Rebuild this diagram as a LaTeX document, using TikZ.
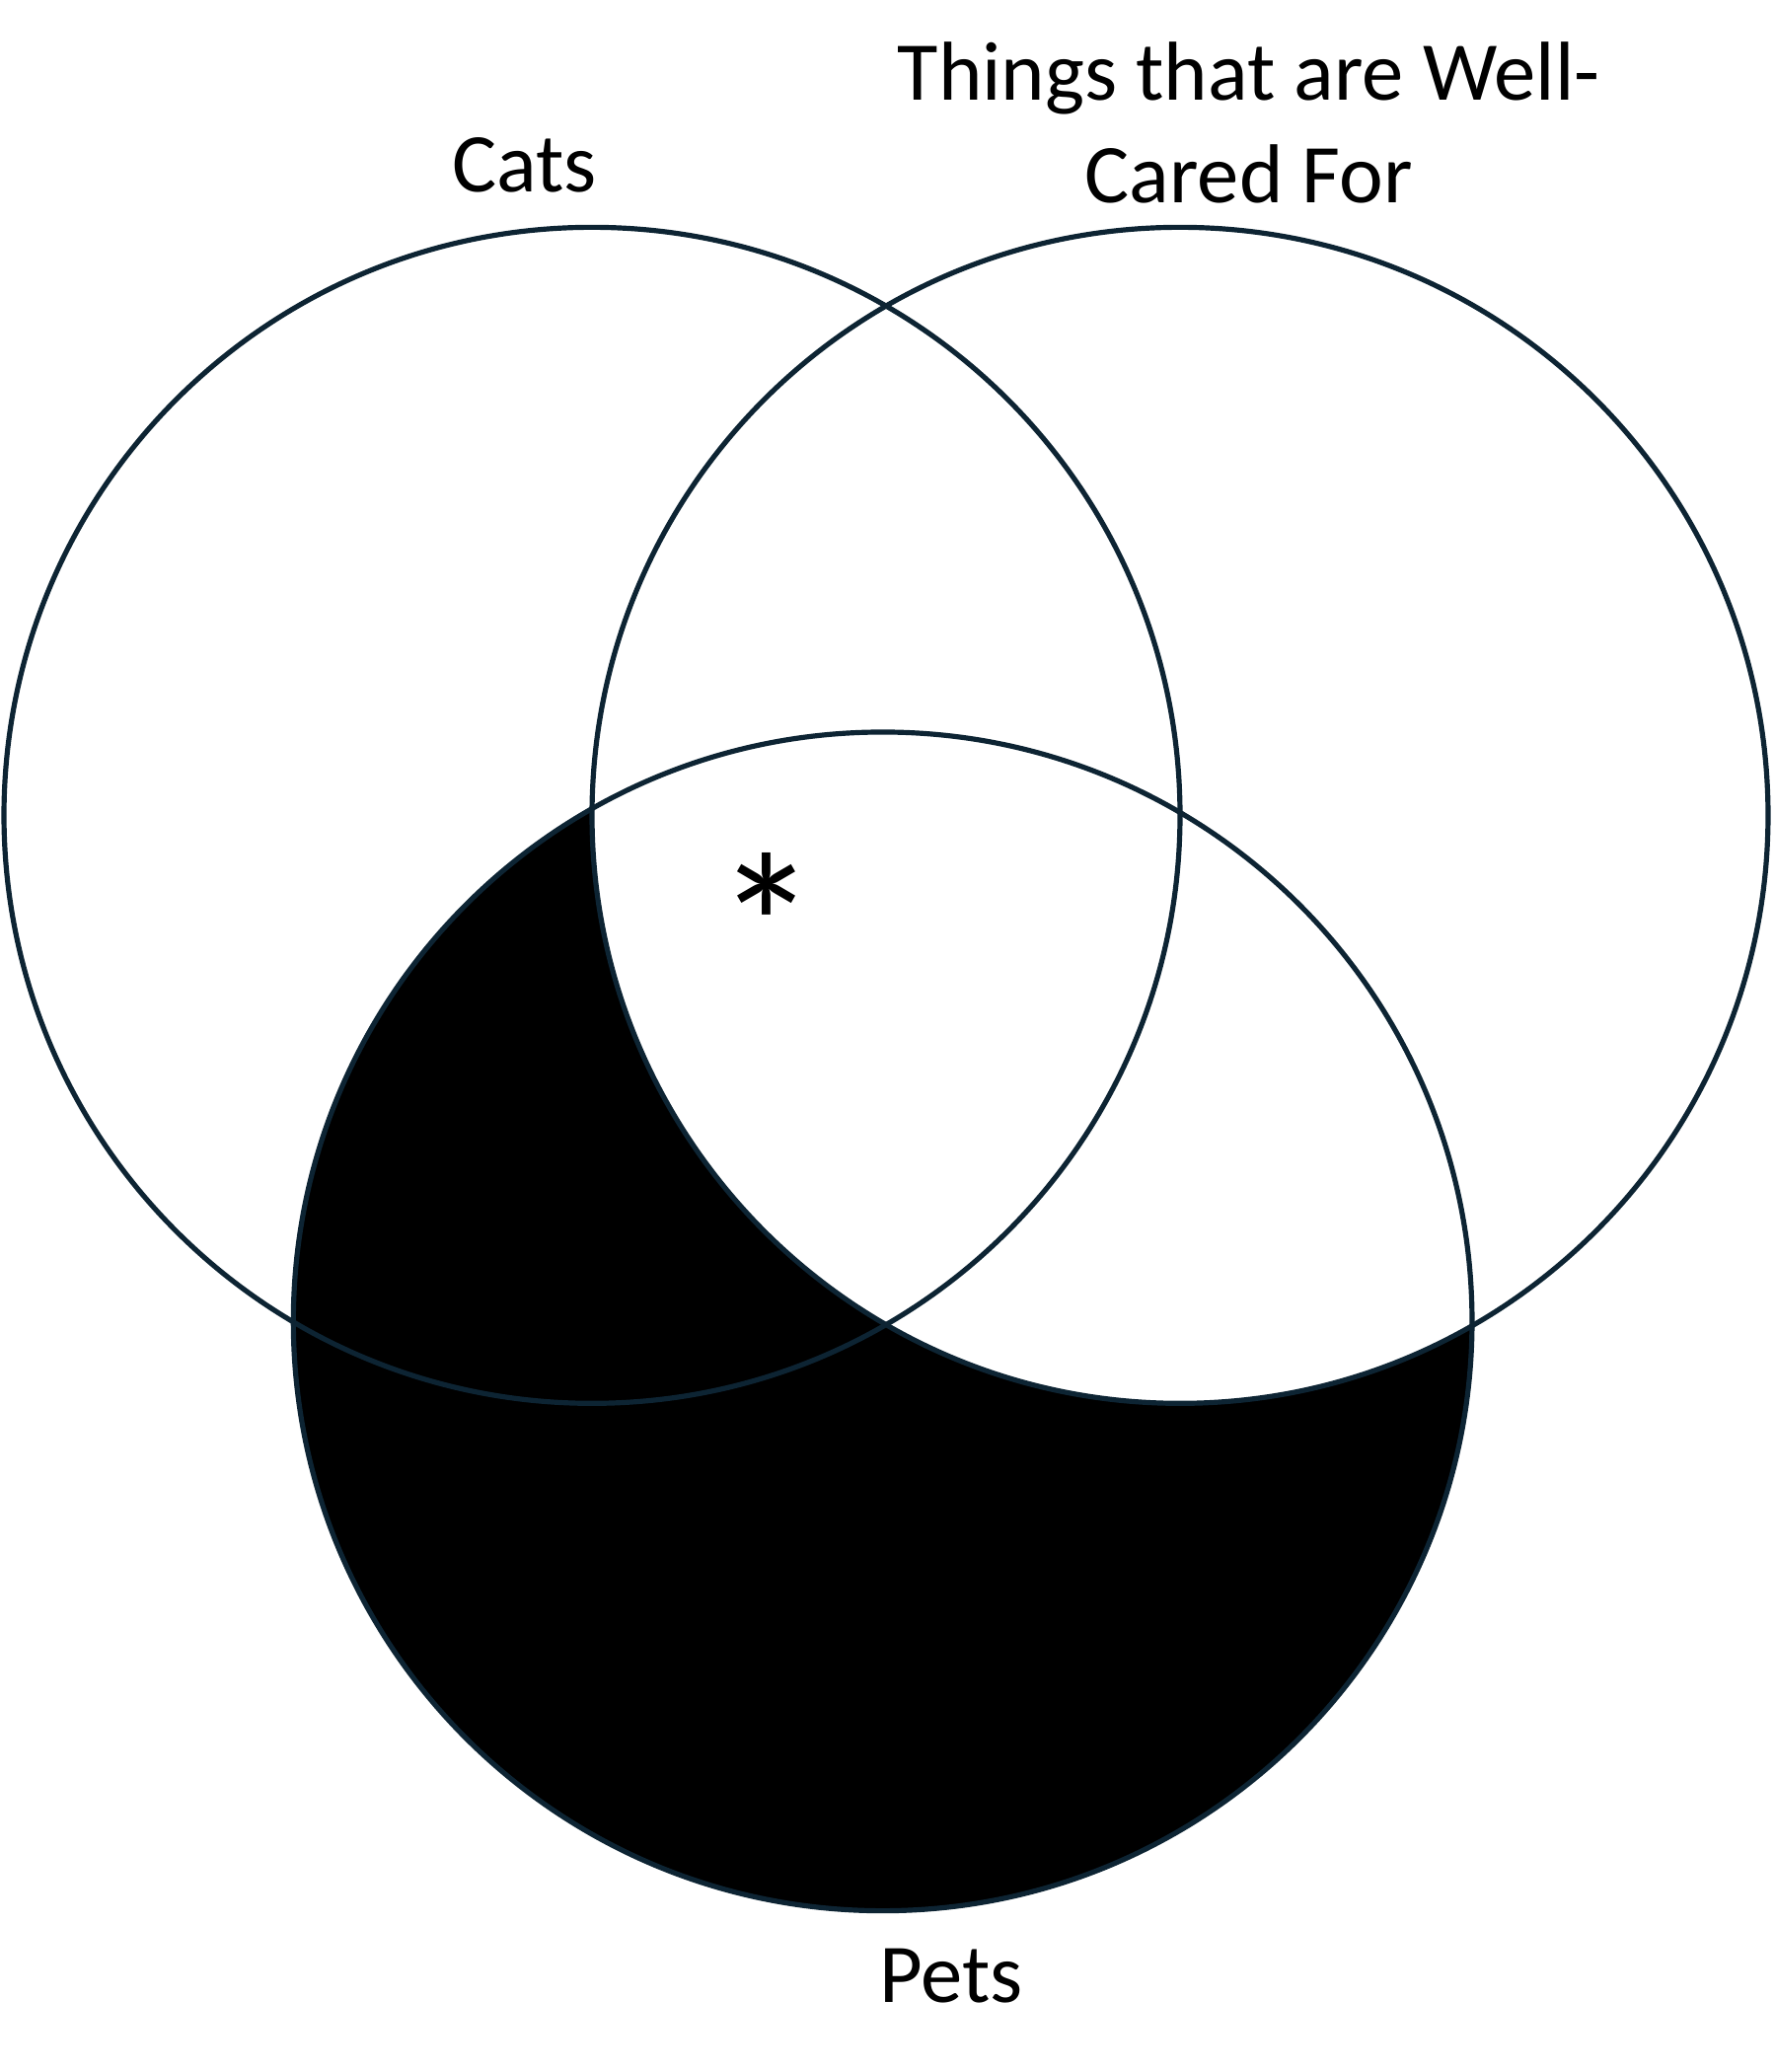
\documentclass[tikz,border=0pt]{standalone}
\usepackage{fontspec}
\setmainfont{Carlito}
\usetikzlibrary{positioning}
\definecolor{rim}{HTML}{0D2433}

\begin{document}
\begin{tikzpicture}[
    set/.style={draw=rim, line width=1.1pt},
    setlabel/.style={align=center, font=\fontsize{18}{22}\selectfont}
]
    \useasboundingbox (0,0) rectangle (13.42,-15.68);
    % SETS
    \coordinate (cats) at (4.48,-6.17);
    \coordinate (cared) at (8.93,-6.17);
    \coordinate (pets) at (6.68,-10.0);

    % SHADING: pets outside well-cared
    \fill[black] (pets) circle (4.46);
    \begin{scope}
        \clip (pets) circle (4.46);
        \fill[white] (cared) circle (4.45);
    \end{scope}

    \draw[set] (cats) circle (4.45);
    \draw[set] (cared) circle (4.45);
    \draw[set] (pets) circle (4.46);

    % LABELS
    \node[setlabel] (cats_label) at (3.97,-1.25) {Cats};
    \node[setlabel] (cared_label) at (9.45,-0.93) {Things that are Well-\\Cared For};
    \node[setlabel] (pets_label) at (7.2,-14.95) {Pets};
    \node[font=\fontsize{44}{44}\selectfont] (star) at (5.8,-7.0) {*};
\end{tikzpicture}
\end{document}
